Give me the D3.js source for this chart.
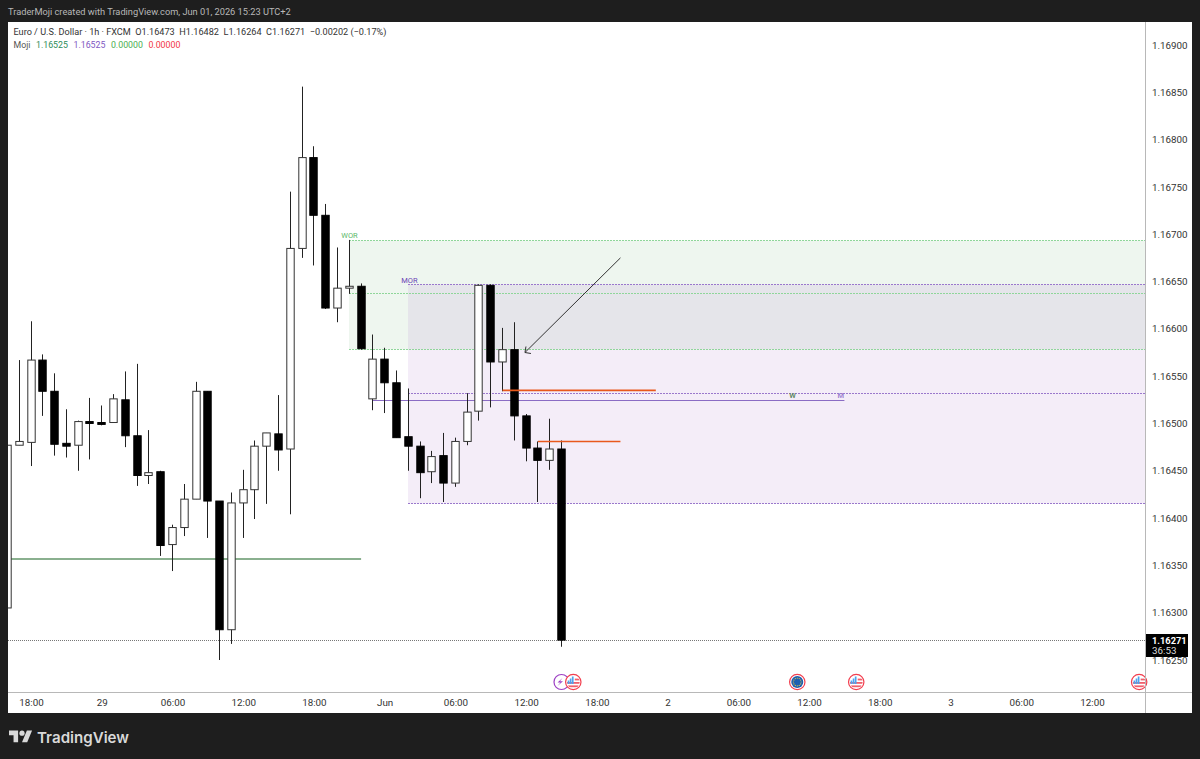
<!DOCTYPE html>
<html>
<head>
<meta charset="utf-8">
<script src="https://cdn.jsdelivr.net/npm/d3@7"></script>
<style>
  html, body { margin: 0; padding: 0; background: #1e1e1e; }
  svg { display: block; }
  text { font-family: Roboto, "Noto Sans", sans-serif; }
  .axis text { font-size: 9.8px; fill: #333; font-family: Roboto, sans-serif; }
</style>
</head>
<body>
<svg id="chart" width="1200" height="759"></svg>
<script>
// Candles, one per hour. Index 0 is the 18:00 candle on May 28, negatives run off the left edge
const candleIndex = d3.range(-2, 46);
const opens = [1.16305, 1.16477, 1.16480, 1.16567, 1.16534, 1.16479, 1.16477, 1.16502, 1.16501, 1.16501,
  1.16525, 1.16487, 1.16445, 1.16449, 1.16372, 1.16390, 1.16420, 1.16534, 1.16418, 1.16282,
  1.16416, 1.16430, 1.16476, 1.16489, 1.16473, 1.16685, 1.16781, 1.16720, 1.16622, 1.16643,
  1.16645, 1.16526, 1.16568, 1.16543, 1.16486, 1.16476, 1.16449, 1.16466, 1.16437, 1.16481,
  1.16513, 1.16646, 1.16565, 1.16578, 1.16508, 1.16474, 1.16461, 1.16473];
const highs = [1.16578, 1.16567, 1.16608, 1.16573, 1.16553, 1.16515, 1.16503, 1.16527, 1.16519, 1.16531,
  1.16555, 1.16563, 1.16493, 1.16450, 1.16393, 1.16436, 1.16544, 1.16534, 1.16418, 1.16427,
  1.16451, 1.16482, 1.16490, 1.16530, 1.16745, 1.16856, 1.16793, 1.16732, 1.16686, 1.16694,
  1.16648, 1.16594, 1.16580, 1.16556, 1.16537, 1.16481, 1.16471, 1.16490, 1.16485, 1.16532,
  1.16647, 1.16647, 1.16601, 1.16607, 1.16510, 1.16481, 1.16505, 1.16482];
const lows = [1.16303, 1.16477, 1.16455, 1.16508, 1.16466, 1.16464, 1.16450, 1.16462, 1.16498, 1.16501,
  1.16475, 1.16434, 1.16436, 1.16360, 1.16344, 1.16381, 1.16420, 1.16379, 1.16250, 1.16267,
  1.16379, 1.16399, 1.16415, 1.16450, 1.16404, 1.16675, 1.16667, 1.16621, 1.16607, 1.16637,
  1.16578, 1.16514, 1.16511, 1.16485, 1.16450, 1.16421, 1.16437, 1.16417, 1.16433, 1.16477,
  1.16503, 1.16517, 1.16534, 1.16482, 1.16460, 1.16417, 1.16451, 1.16264];
const closes = [1.16477, 1.16481, 1.16567, 1.16534, 1.16478, 1.16476, 1.16502, 1.16500, 1.16499, 1.16526,
  1.16487, 1.16445, 1.16448, 1.16371, 1.16390, 1.16420, 1.16534, 1.16418, 1.16282, 1.16416,
  1.16430, 1.16476, 1.16490, 1.16472, 1.16685, 1.16781, 1.16720, 1.16622, 1.16643, 1.16645,
  1.16579, 1.16568, 1.16543, 1.16485, 1.16476, 1.16448, 1.16465, 1.16437, 1.16481, 1.16512,
  1.16646, 1.16565, 1.16578, 1.16508, 1.16474, 1.16461, 1.16473, 1.16271];

// Axis ticks
const priceTicks = [1.169, 1.1685, 1.168, 1.1675, 1.167, 1.1665, 1.166, 1.1655, 1.165, 1.1645, 1.164, 1.1635, 1.163, 1.1625];
const timeTickIndex = [0, 6, 12, 18, 24, 30, 36, 42, 48, 54, 60, 66, 72, 78, 84, 90];
const timeTickLabels = ["18:00", "29", "06:00", "12:00", "18:00", "Jun", "06:00", "12:00", "18:00", "2", "06:00", "12:00", "18:00", "3", "06:00", "12:00"];

// Weekly and monthly opening ranges: [start index, top, middle, bottom]
const weekRange = [27, 1.16694, 1.16638, 1.16579];
const monthRange = [32, 1.16647, 1.16532, 1.16416];

// Drawn lines: [start index, end index, price]
const greenLine = [-2, 28, 1.16357];
const purpleLine = [29, 69, 1.16525];
const orangeLines = [[40, 53, 1.16535], [43, 50, 1.16481]];
const arrowLine = [50, 1.16675, 41.9, 1.16575];

const lastPrice = 1.16271;
const countdown = "36:53";
const usEvents = [46, 70, 94];
const euEvents = [65];
const speechEvents = [45];

const legendValues = ["1.16525", "1.16525", "0.00000", "0.00000"];
const legendColors = ["#2e8b57", "#7e57c2", "#4caf50", "#f23645"];

const W = 1200, H = 759;
const plotLeft = 8, plotRight = 1145, plotTop = 22, plotBottom = 692, frameRight = 1192, frameBottom = 713;

const x = d3.scaleLinear().domain([0, 90]).range([31, 1092]);
const y = d3.scaleLinear().domain([1.169, 1.1625]).range([45, 660]);
const crisp = v => Math.round(v) + 0.5;

const svg = d3.select("#chart");

// Panel
svg.append("rect").attr("width", W).attr("height", H).attr("fill", "#1e1e1e");
svg.append("rect").attr("x", plotLeft).attr("y", plotTop)
  .attr("width", frameRight - plotLeft).attr("height", frameBottom - plotTop).attr("fill", "#fff");

const defs = svg.append("defs");
defs.append("clipPath").attr("id", "plotClip").append("rect")
  .attr("x", plotLeft).attr("y", plotTop).attr("width", plotRight - plotLeft).attr("height", plotBottom - plotTop);
defs.append("clipPath").attr("id", "iconClip").append("circle").attr("r", 6.4);

const plot = svg.append("g").attr("clip-path", "url(#plotClip)");

// Range fills: green, purple, then grey where the two overlap
const fillRange = (start, top, bottom, fill) => {
  plot.append("rect")
    .attr("x", Math.round(x(start))).attr("y", crisp(y(top)))
    .attr("width", plotRight - Math.round(x(start))).attr("height", crisp(y(bottom)) - crisp(y(top)))
    .attr("fill", fill);
};
const dotted = (start, price, color) => {
  plot.append("line")
    .attr("x1", Math.round(x(start))).attr("x2", plotRight)
    .attr("y1", crisp(y(price))).attr("y2", crisp(y(price)))
    .attr("stroke", color).attr("stroke-width", 1).attr("stroke-dasharray", "2 1");
};
fillRange(weekRange[0], weekRange[1], weekRange[3], "#eef6ef");
fillRange(monthRange[0], monthRange[1], monthRange[3], "#f4edf8");
fillRange(monthRange[0], monthRange[1], weekRange[3], "#e5e5ea");
weekRange.slice(1).forEach(p => dotted(weekRange[0], p, "#8fd69a"));
monthRange.slice(1).forEach(p => dotted(monthRange[0], p, "#9a78cc"));

// Range labels
plot.append("text").text("WOR").attr("x", x(weekRange[0]) - 8).attr("y", y(weekRange[1]) - 2)
  .attr("font-size", 7.5).attr("fill", "#5cb868");
plot.append("text").text("MOR").attr("x", x(monthRange[0]) - 7).attr("y", y(monthRange[1]) - 1)
  .attr("font-size", 7.5).attr("fill", "#6a3fb5");

// Level lines
plot.append("line").attr("x1", x(greenLine[0])).attr("x2", x(greenLine[1]))
  .attr("y1", Math.round(y(greenLine[2]))).attr("y2", Math.round(y(greenLine[2])))
  .attr("stroke", "#8ab08f").attr("stroke-width", 2);
plot.append("line").attr("x1", x(purpleLine[0])).attr("x2", x(purpleLine[1]))
  .attr("y1", crisp(y(purpleLine[2]))).attr("y2", crisp(y(purpleLine[2])))
  .attr("stroke", "#8a6cc4").attr("stroke-width", 1);
plot.append("text").text("W").attr("x", x(64.6)).attr("y", y(purpleLine[2]) - 2)
  .attr("text-anchor", "middle").attr("font-size", 7.5).attr("font-weight", 600).attr("fill", "#5f8a66");
plot.append("text").text("M").attr("x", x(68.7)).attr("y", y(purpleLine[2]) - 2)
  .attr("text-anchor", "middle").attr("font-size", 7.5).attr("font-weight", 600).attr("fill", "#9a80d0");

// Last price line
plot.append("line").attr("x1", plotLeft).attr("x2", plotRight)
  .attr("y1", crisp(y(lastPrice))).attr("y2", crisp(y(lastPrice)))
  .attr("stroke", "#777").attr("stroke-dasharray", "1 1");

// Candles
const candles = candleIndex.map((d, i) => ({ i: d, o: opens[i], h: highs[i], l: lows[i], c: closes[i] }));
const bodyW = 7.4;
const mid = d => Math.floor(x(d.i)) + 0.5;
const candleG = plot.selectAll("g.candle").data(candles).enter().append("g").attr("class", "candle");
candleG.append("line")
  .attr("x1", mid).attr("x2", mid)
  .attr("y1", d => y(d.h)).attr("y2", d => y(d.l))
  .attr("stroke", "#222").attr("stroke-width", 1);
candleG.append("rect")
  .attr("x", d => mid(d) - bodyW / 2)
  .attr("y", d => y(Math.max(d.o, d.c)))
  .attr("width", bodyW)
  .attr("height", d => Math.max(1, Math.abs(y(d.o) - y(d.c))))
  .attr("fill", d => d.c >= d.o ? "#fff" : "#000")
  .attr("stroke", d => d.c >= d.o ? "#333" : "#000").attr("stroke-width", 1);

// Orange lines and the arrow sit on top of the candles
orangeLines.forEach(l => {
  plot.append("line").attr("x1", x(l[0])).attr("x2", x(l[1]))
    .attr("y1", y(l[2])).attr("y2", y(l[2]))
    .attr("stroke", "#e8591c").attr("stroke-width", 1.6);
});
const [ax1, ap1, ax2, ap2] = arrowLine;
plot.append("line").attr("x1", x(ax1)).attr("y1", y(ap1)).attr("x2", x(ax2)).attr("y2", y(ap2))
  .attr("stroke", "#333").attr("stroke-width", 1);
plot.append("path")
  .attr("d", `M${x(ax2) + 6},${y(ap2) + 1} L${x(ax2)},${y(ap2)} L${x(ax2) + 1},${y(ap2) - 6}`)
  .attr("fill", "none").attr("stroke", "#333").attr("stroke-width", 1);

// Event markers along the time axis
const iconY = 682;
const usIcon = g => {
  g.append("circle").attr("r", 7.7).attr("fill", "#fff").attr("stroke", "#f23f4f").attr("stroke-width", 1.2);
  const f = g.append("g").attr("clip-path", "url(#iconClip)");
  f.append("rect").attr("x", -7).attr("y", 0).attr("width", 14).attr("height", 1.8).attr("fill", "#f0606c");
  f.append("rect").attr("x", -7).attr("y", 3.4).attr("width", 14).attr("height", 1.8).attr("fill", "#f0606c");
  f.append("rect").attr("x", 1.5).attr("y", -3.4).attr("width", 6).attr("height", 1.8).attr("fill", "#f0606c");
  [[-5.6, -1.5], [-3.5, -3.5], [-1.4, -5.5]].forEach(b => {
    f.append("rect").attr("x", b[0]).attr("y", b[1]).attr("width", 1.7).attr("height", 2 - b[1]).attr("fill", "#4ea3ee");
  });
};
speechEvents.forEach(e => {
  const g = svg.append("g").attr("transform", `translate(${x(e)},${iconY})`);
  g.append("circle").attr("r", 7.5).attr("fill", "#fff").attr("stroke", "#9c3fc4").attr("stroke-width", 1.2);
  g.append("path").attr("d", "M1,-4 L-4,0.5 L-1,0.5 L-4,4 L1.5,-0.8 L-1.5,-0.8 Z").attr("fill", "#9c3fc4");
});
usEvents.forEach(e => {
  svg.append("g").attr("transform", `translate(${x(e)},${iconY})`).call(usIcon);
});
euEvents.forEach(e => {
  const g = svg.append("g").attr("transform", `translate(${x(e)},${iconY})`);
  g.append("circle").attr("r", 7.7).attr("fill", "#fff").attr("stroke", "#f23f4f").attr("stroke-width", 1.2);
  g.append("circle").attr("r", 6).attr("fill", "#1d5fb0");
  d3.range(12).forEach(k => {
    const a = k * Math.PI / 6;
    g.append("circle").attr("cx", 3.9 * Math.cos(a)).attr("cy", 3.9 * Math.sin(a)).attr("r", 0.6).attr("fill", "#e8c840");
  });
});

// Axes
const priceAxis = d3.axisRight(y).tickValues(priceTicks).tickFormat(d3.format(".5f")).tickSize(0).tickPadding(6.5);
svg.append("g").attr("class", "axis").attr("transform", `translate(${plotRight + 0.5},0)`).call(priceAxis)
  .call(g => g.select(".domain").remove());
const timeLabel = d3.scaleOrdinal().domain(timeTickIndex).range(timeTickLabels);
const timeAxis = d3.axisBottom(x).tickValues(timeTickIndex).tickFormat(d => timeLabel(d)).tickSize(0).tickPadding(7);
svg.append("g").attr("class", "axis").attr("transform", `translate(0,${plotBottom})`).call(timeAxis)
  .call(g => g.select(".domain").remove());

svg.append("line").attr("x1", plotRight + 0.5).attr("x2", plotRight + 0.5).attr("y1", plotTop).attr("y2", frameBottom)
  .attr("stroke", "#b8b8b8");
svg.append("line").attr("x1", plotLeft).attr("x2", frameRight).attr("y1", plotBottom + 0.5).attr("y2", plotBottom + 0.5)
  .attr("stroke", "#b8b8b8");

// Last price tag
const tagY = Math.round(y(lastPrice)) - 6;
svg.append("rect").attr("x", plotRight + 1).attr("y", tagY).attr("width", 42).attr("height", 23).attr("fill", "#000");
svg.append("text").text(d3.format(".5f")(lastPrice)).attr("x", plotRight + 7).attr("y", tagY + 10)
  .attr("font-size", 9.3).attr("font-weight", 700).attr("fill", "#fff");
svg.append("text").text(countdown).attr("x", plotRight + 7).attr("y", tagY + 20)
  .attr("font-size", 9.8).attr("fill", "#ddd");

// Header
svg.append("text").text("TraderMoji created with TradingView.com, Jun 01, 2026 15:23 UTC+2")
  .attr("x", 8).attr("y", 15).attr("font-size", 9.25).attr("fill", "#b8b8b8");

svg.append("text").attr("x", 13.5).attr("y", 35).attr("font-size", 9.15).attr("fill", "#333")
  .text("Euro / U.S. Dollar · 1h · FXCM\u00a0\u00a0O1.16473\u00a0\u00a0H1.16482\u00a0\u00a0L1.16264\u00a0\u00a0C1.16271\u00a0\u00a0−0.00202 (−0.17%)");

const legend2 = svg.append("text").attr("x", 13.5).attr("y", 48).attr("font-size", 8.8).attr("fill", "#555");
legend2.append("tspan").text("Moji");
legendValues.forEach((v, i) => {
  legend2.append("tspan").attr("dx", 5.5).attr("fill", legendColors[i]).text(v);
});

// TradingView logo
const logo = svg.append("g").attr("transform", "translate(9,728) scale(0.65)").attr("fill", "#d9d9d9");
logo.append("path").attr("d", "M14 22H7V11H0V4h14v18zM28 22h-8l7.5-18h8L28 22z");
logo.append("circle").attr("cx", 20).attr("cy", 8).attr("r", 4);
svg.append("text").text("TradingView").attr("x", 37).attr("y", 743)
  .attr("font-size", 15.1).attr("font-weight", 600).attr("fill", "#d9d9d9")
  .style("font-family", "Inter, sans-serif");
</script>
</body>
</html>
